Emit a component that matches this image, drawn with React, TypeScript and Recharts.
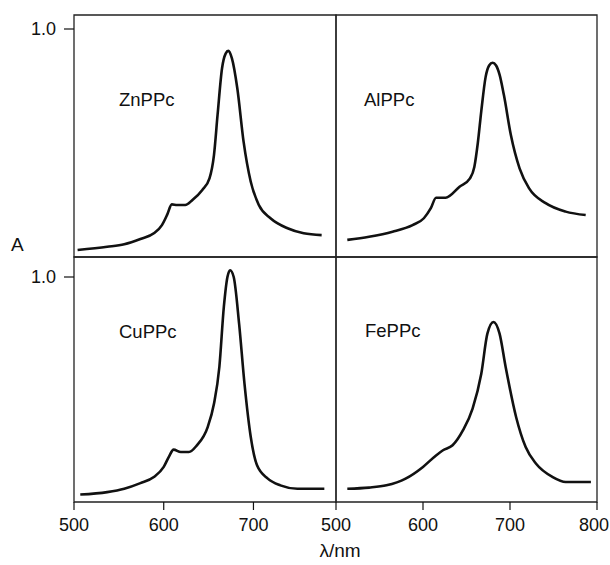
import React from 'react'
import { LineChart, Line, XAxis, YAxis, ReferenceArea } from 'recharts'

// wavelengths (nm) and absorbance
const ZN_NM = [504, 537, 556, 574, 589, 598, 604, 609, 615, 624, 632, 643, 651, 656, 660, 665, 669, 672, 676, 682, 689, 697, 706, 719, 738, 756, 776]
const ZN_A = [0.031, 0.045, 0.056, 0.079, 0.104, 0.14, 0.187, 0.231, 0.228, 0.228, 0.25, 0.294, 0.345, 0.447, 0.623, 0.828, 0.892, 0.904, 0.871, 0.74, 0.506, 0.33, 0.228, 0.17, 0.126, 0.104, 0.096]

const AL_NM = [513, 538, 565, 588, 601, 609, 615, 626, 642, 654, 659, 663, 667, 672, 676, 680, 684, 688, 693, 701, 711, 722, 741, 764, 787]
const AL_A = [0.075, 0.089, 0.111, 0.14, 0.17, 0.214, 0.26, 0.26, 0.308, 0.345, 0.395, 0.5, 0.64, 0.79, 0.84, 0.852, 0.84, 0.8, 0.71, 0.535, 0.389, 0.301, 0.236, 0.199, 0.184]

const CU_NM = [507, 537, 556, 574, 589, 600, 606, 611, 619, 628, 637, 649, 656, 662, 667, 671, 674, 678, 684, 690, 697, 704, 716, 730, 749, 779]
const CU_A = [0.033, 0.044, 0.059, 0.084, 0.111, 0.156, 0.203, 0.233, 0.222, 0.222, 0.252, 0.333, 0.437, 0.6, 0.867, 1.0, 1.03, 1.0, 0.793, 0.526, 0.289, 0.163, 0.104, 0.074, 0.059, 0.059]

const FE_NM = [513, 538, 558, 580, 600, 615, 623, 634, 646, 657, 667, 674, 681, 688, 695, 707, 718, 730, 749, 764, 793]
const FE_A = [0.059, 0.064, 0.074, 0.104, 0.156, 0.207, 0.23, 0.252, 0.319, 0.415, 0.57, 0.748, 0.8, 0.748, 0.6, 0.378, 0.244, 0.17, 0.111, 0.089, 0.089]

const LEFT_TICKS = [500, 600, 700]
const RIGHT_TICKS = [500, 600, 700, 800]
const Y_TICKS = [1]

const FONT = "'Liberation Sans', Arial, sans-serif"
const INK = '#111'

const toRows = (nm: number[], a: number[]) => nm.map((x, i) => ({ nm: x, a: a[i] }))

// x tick label, kept inside the page at the right edge
function XTick(props: any) {
  const { x, y, payload, pageLeft } = props
  const label = String(payload.value)
  const half = 15
  const maxX = 609 - pageLeft - half
  const cx = Math.min(x, maxX)
  return (
    <text x={cx} y={y} dy="0.71em" textAnchor="middle" fontSize={18} fill={INK} fontFamily={FONT}>
      {label}
    </text>
  )
}

interface PanelProps {
  rows: { nm: number; a: number }[]
  left: number
  top: number
  width: number
  height: number
  xMax: number
  yMax: number
  showY?: boolean
  xTicks?: number[]
  leftPad?: number
  rightPad?: number
}

function Panel({ rows, left, top, width, height, xMax, yMax, showY, xTicks, leftPad = 2, rightPad = 2 }: PanelProps) {
  return (
    <div style={{ position: 'absolute', left, top }}>
      <LineChart
        width={width}
        height={height}
        data={rows}
        margin={{ top: 2, right: rightPad, bottom: xTicks ? 0 : 2, left: showY ? 0 : leftPad }}
      >
        <XAxis
          type="number"
          dataKey="nm"
          domain={[500, xMax]}
          allowDataOverflow
          hide={!xTicks}
          ticks={xTicks}
          interval={0}
          height={45}
          axisLine={false}
          tickSize={8}
          tickMargin={8}
          tickLine={{ stroke: INK, strokeWidth: 1.2 }}
          tick={(p: any) => <XTick {...p} pageLeft={left} />}
        />
        <YAxis
          type="number"
          domain={[0, yMax]}
          allowDataOverflow
          hide={!showY}
          ticks={Y_TICKS}
          width={74}
          axisLine={false}
          tickSize={10}
          tickMargin={8}
          tickLine={{ stroke: INK, strokeWidth: 1.2 }}
          tick={{ fontSize: 18, fill: INK, fontFamily: FONT }}
          tickFormatter={(v: number) => v.toFixed(1)}
        />
        <ReferenceArea
          x1={500}
          x2={xMax}
          y1={0}
          y2={yMax}
          fill="none"
          stroke="#222"
          strokeWidth={1.3}
          strokeOpacity={1}
          ifOverflow="visible"
        />
        <Line
          type="monotone"
          dataKey="a"
          stroke={INK}
          strokeWidth={2.6}
          dot={false}
          isAnimationActive={false}
        />
      </LineChart>
    </div>
  )
}

export default function App() {
  const topMax = 242 / 228
  const botMax = 245 / 225
  return (
    <div style={{ position: 'absolute', left: 0, top: 0, width: 610, height: 565, background: '#fff', fontFamily: FONT, overflow: 'hidden' }}>
      <Panel rows={toRows(ZN_NM, ZN_A)} left={0} top={13} width={338} height={246} xMax={792} yMax={topMax} showY />
      <Panel rows={toRows(AL_NM, AL_A)} left={304} top={13} width={295} height={246} xMax={800} yMax={topMax} leftPad={32} />
      <Panel rows={toRows(CU_NM, CU_A)} left={0} top={255} width={338} height={292} xMax={792} yMax={botMax} showY xTicks={LEFT_TICKS} />
      <Panel rows={toRows(FE_NM, FE_A)} left={304} top={255} width={306} height={292} xMax={800} yMax={botMax} xTicks={RIGHT_TICKS} leftPad={32} rightPad={13} />
      <svg width={610} height={565} style={{ position: 'absolute', left: 0, top: 0, pointerEvents: 'none' }}>
        <g fontFamily={FONT} fontSize={18.5} fill={INK}>
          <text x={119} y={105.5}>ZnPPc</text>
          <text x={364} y={105.5}>AlPPc</text>
          <text x={119} y={337.5}>CuPPc</text>
          <text x={365} y={336.5}>FePPc</text>
          <text x={11} y={251} fontSize={19}>A</text>
          <text x={340} y={557} fontSize={19} textAnchor="middle">λ/nm</text>
        </g>
      </svg>
    </div>
  )
}
